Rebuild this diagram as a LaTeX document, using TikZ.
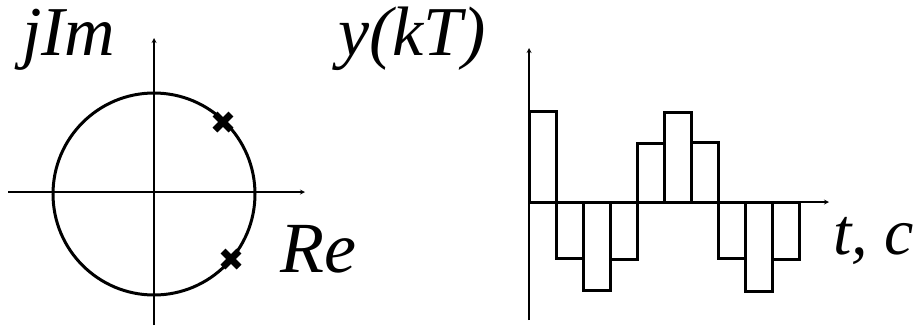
\documentclass[tikz,border=0pt]{standalone}
\usepackage{fontspec}
\setmainfont{Liberation Serif}
\usetikzlibrary{calc, positioning}

\begin{document}
\begin{tikzpicture}[>=stealth, x=1pt, y=-1pt,
  axis/.style={->, line width=1.2pt},
  big/.style={font=\fontsize{70}{72}\selectfont\itshape, inner sep=0pt, anchor=base west},
  pole/.style={line width=7pt},
  bar/.style={line width=3pt}]
  \useasboundingbox (0,0) rectangle (919,327);
  % z-plane axes
  \coordinate (O) at (154,192);
  \draw[axis] (8,192) -- (305,192);
  \draw[axis] (154,325) -- (154,38);
  \node[big] (jim) at (22,55) {jIm};
  \node[big, font=\fontsize{72}{74}\selectfont\itshape] (re) at (280,272) {Re};
  % unit circle
  \draw[line width=3pt] (154,194) circle (101);
  % poles
  \foreach \px/\py in {223/122, 231/259}{
    \draw[pole] (\px-8,\py-8) -- (\px+8,\py+8);
    \draw[pole] (\px-8,\py+8) -- (\px+8,\py-8);
  }
  % output sequence
  \coordinate (S) at (529,202);
  \draw[axis] (529,320) -- (529,48);
  \draw[axis] (S) -- (829,202);
  \node[big] (ykt) at (338,55) {y(kT)};
  \node[big, font=\fontsize{66}{68}\selectfont\itshape] (tc) at (833,254) {t, c};
  \foreach \h [count=\i from 0] in {91,-56,-88,-57,59,90,60,-56,-89,-57}
    \draw[bar] ($(S)+(27*\i,0)$) rectangle ++(27,-\h);
\end{tikzpicture}
\end{document}
